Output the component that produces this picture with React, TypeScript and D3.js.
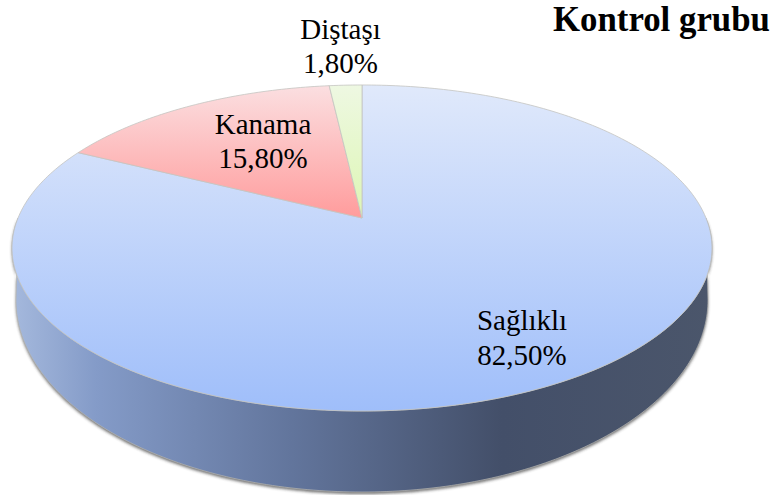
import React from "react";
import * as d3 from "d3";

const labels = ["Diştaşı", "Kanama", "Sağlıklı"];
const shares = [1.8, 15.8, 82.5];
const shareText = ["1,80%", "15,80%", "82,50%"];
const title = "Kontrol grubu";
const topStops = [
  ["#eef8e2", "#ddf6b4"],
  ["#fbdfe1", "#ff9c9c"],
  ["#e0e9fb", "#9fbefa"],
];
const labelPos = [
  [340.5, 39, 73],
  [263, 134, 168],
  [522, 330, 365],
];

const W = 778, H = 495;
const CX = 362, APEX = 218, BX = 344, AY = 157.5, K = 0.184, DEPTH_CY = 300, DEPTH_RX = 346, DEPTH_RY = 192;

// pie runs counter-clockwise from twelve o'clock in the reference
function project(angle: number): [number, number] {
  const u = -Math.sin(angle), v = -Math.cos(angle);
  const w = 1 - K * v;
  return [CX + (BX * u) / w, APEX + (AY * v) / w];
}

const pieGen = d3.pie<number>().sort(null).value((d) => d);
const arcs = pieGen(shares);
const line = d3.line<[number, number]>();

function slicePath(a0: number, a1: number): string {
  const n = Math.max(4, Math.ceil((a1 - a0) * 60));
  const rim = d3.range(n + 1).map((i) => project(a0 + ((a1 - a0) * i) / n));
  return line([[CX, APEX], ...rim])! + "Z";
}

function sidePath(): string {
  const top = d3.range(0, 181).map((i) => project(Math.PI / 2 + (Math.PI * i) / 180));
  const bottom = d3.range(0, 181).map((i) => {
    const t = (Math.PI * i) / 180;
    return [CX + DEPTH_RX * Math.cos(t), DEPTH_CY + DEPTH_RY * Math.sin(t)] as [number, number];
  });
  return line([...top, ...bottom])! + "Z";
}

export default function App() {
  const side = sidePath();
  const order = [2, 1, 0];
  const sideOffsets = [0, 0.12, 0.4, 0.7, 1];
  const sideColor = d3.scaleLinear<string>()
    .domain(sideOffsets)
    .range(["#a5b9dd", "#849bc8", "#62759c", "#434f69", "#4b566b"]);
  return (
    <svg width={W} height={H} style={{ position: "absolute", left: 0, top: 0, background: "#fff" }}
      fontFamily="'Liberation Serif', serif">
      <defs>
        <linearGradient id="side" x1="0" x2="1" y1="0" y2="0">
          {sideOffsets.map((o) => (
            <stop key={o} offset={o} stopColor={sideColor(o)} />
          ))}
        </linearGradient>
        {topStops.map((s, i) => (
          <linearGradient key={i} id={`g${i}`} gradientUnits="userSpaceOnUse" x1="0" x2="0"
            y1={85} y2={i === 2 ? 411 : APEX}>
            <stop offset="0" stopColor={s[0]} />
            <stop offset="1" stopColor={s[1]} />
          </linearGradient>
        ))}
        <filter id="blur" x="-5%" y="-5%" width="110%" height="110%">
          <feGaussianBlur stdDeviation="1.8" />
        </filter>
      </defs>
      <path d={side} fill="#333" opacity={0.7} filter="url(#blur)" transform="translate(0,2)" />
      <path d={side} fill="url(#side)" stroke="#b8b8b4" strokeWidth={0.7} />
      {order.map((i) => (
        <path key={i} d={slicePath(arcs[i].startAngle, arcs[i].endAngle)} fill={`url(#g${i})`}
          stroke="#c4c4c0" strokeWidth={0.8} strokeLinejoin="round" />
      ))}
      {labels.map((t, i) => (
        <g key={t} fontSize={29} fill="#000" textAnchor="middle">
          <text x={labelPos[i][0]} y={labelPos[i][1]}>{t}</text>
          <text x={labelPos[i][0]} y={labelPos[i][2]}>{shareText[i]}</text>
        </g>
      ))}
      <text x={553} y={31} fontSize={34.8} fontWeight="bold" fill="#000">{title}</text>
    </svg>
  );
}
